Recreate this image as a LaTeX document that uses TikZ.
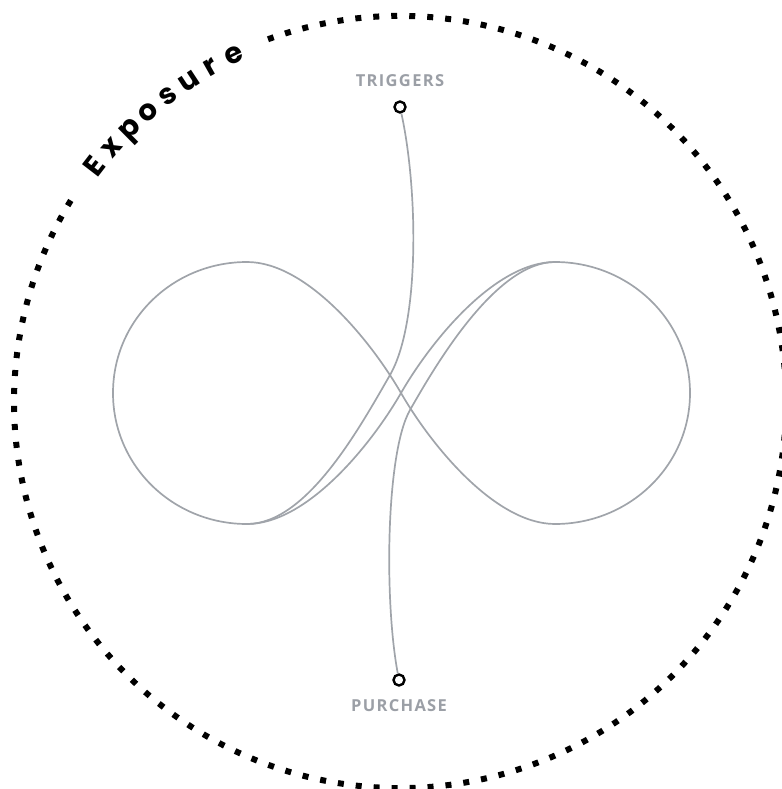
\documentclass[tikz,border=0pt]{standalone}
\usepackage{fontspec}
\usepackage{tikz}
\usetikzlibrary{positioning,calc}
\definecolor{loopgray}{RGB}{160,164,170}
\definecolor{labelgray}{RGB}{155,159,166}
\newfontfamily\labelfont{Open Sans}[LetterSpace=8]
\newfontfamily\ringfont{Poppins}

\tikzset{
  loopline/.style={draw=loopgray, line width=1.7pt},
  endpoint/.style={circle, draw=black, fill=white, line width=2.4pt,
                   minimum size=11pt, inner sep=0pt},
  steplabel/.style={text=labelgray, inner sep=0pt,
                    font=\labelfont\bfseries\fontsize{16.5}{16.5}\selectfont},
  ringletter/.style={anchor=base, inner sep=0pt,
                     font=\ringfont\bfseries\fontsize{29}{29}\selectfont}
}

\begin{document}
\begin{tikzpicture}[x=1pt, y=-1pt]
\useasboundingbox (0,0) rectangle (781,789);

% dotted ring, open where the title sits
\draw[line width=6pt, dash pattern=on 6pt off 12pt]
  (400,402) ++(-110:386) arc[start angle=-110, end angle=211.6, radius=386];

% title along the ring
\begin{scope}[shift={(400,402)}]
  \foreach \letter [count=\i from 0] in {E,x,p,o,s,u,r,e}
    \node[ringletter, rotate={52.4-3.82*\i}] (ch\i)
      at ({-142.4+3.82*\i}:376) {\letter};
\end{scope}

% merge points of the connectors
\coordinate (lowmerge) at (247,524);
\coordinate (highmerge) at (555,262);

% infinity loop
\draw[loopline] (401,393) .. controls (371,341) and (307,262) .. (247,262)
  .. controls (173,262) and (113,320) .. (113,393)
  .. controls (113,466) and (173,524) .. (lowmerge)
  .. controls (307,524) and (371,445) .. (401,393)
  .. controls (431,341) and (495,262) .. (highmerge)
  .. controls (629,262) and (690,320) .. (690,393)
  .. controls (690,466) and (629,524) .. (555,524)
  .. controls (495,524) and (431,445) .. (401,393) -- cycle;

% end points
\node[endpoint] (triggers) at (400,107) {};
\node[endpoint] (purchase) at (399,680) {};
\node[steplabel, above=13pt of triggers] (triggerstext) {TRIGGERS};
\node[steplabel, below=13pt of purchase] (purchasetext) {PURCHASE};

% connectors into the loop
\draw[loopline] (triggers) .. controls (418,190) and (420,323) .. (390,375)
  .. controls (360,427) and (307,524) .. (lowmerge);
\draw[loopline] (purchase) .. controls (384,600) and (386,452) .. (410,410)
  .. controls (434,368) and (495,262) .. (highmerge);
\end{tikzpicture}
\end{document}
